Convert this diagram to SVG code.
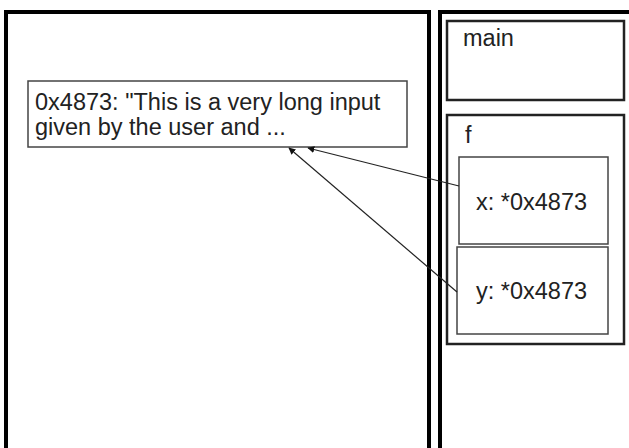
<svg xmlns="http://www.w3.org/2000/svg" width="629" height="448" viewBox="0 0 629 448">
<style>
  .big{fill:none;stroke:#000;stroke-width:4}
  .frame{fill:none;stroke:#222;stroke-width:2.5}
  .cell{fill:#fff;stroke:#444;stroke-width:1.5}
  .t{font-family:"Liberation Sans",Arial,sans-serif;font-size:23.5px;fill:#222}
  .conn{stroke:#222;stroke-width:1.2;fill:none;marker-end:url(#ah)}
</style>
<defs>
  <marker id="ah" viewBox="0 0 10 10" refX="9" refY="5" markerWidth="7" markerHeight="7" markerUnits="userSpaceOnUse" orient="auto">
    <path d="M0,0 L10,5 L0,10 z" fill="#111"/>
  </marker>
</defs>
<rect width="629" height="448" fill="#fff"/>
<g id="heap">
  <path class="big" d="M6,460 V12 H429 V460"/>
</g>
<g id="stack">
  <path class="big" d="M440,460 V12 H640"/>
</g>
<g id="main">
  <rect class="frame" x="447" y="21" width="177" height="79"/>
  <text class="t" x="463" y="46">main</text>
</g>
<g id="f">
  <rect class="frame" x="447" y="115" width="177" height="229"/>
  <text class="t" x="465" y="143">f</text>
</g>
<g id="x">
  <rect class="cell" x="459" y="157" width="149" height="87"/>
  <text class="t" x="476" y="210">x: *0x4873</text>
</g>
<g id="y">
  <rect class="cell" x="457" y="247" width="151" height="87"/>
  <text class="t" x="476" y="299">y: *0x4873</text>
</g>
<g id="str">
  <rect class="cell" x="28" y="81" width="379" height="66"/>
  <text class="t" x="35" y="110">0x4873: "This is a very long input</text>
  <text class="t" x="35" y="135">given by the user and ...</text>
</g>
<g id="connectors">
  <line class="conn" x1="459" y1="186" x2="308" y2="148"/>
  <line class="conn" x1="457" y1="292" x2="289" y2="148"/>
</g>
</svg>
